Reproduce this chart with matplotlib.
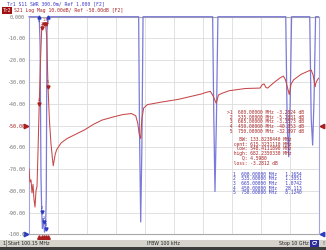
import numpy as np
import matplotlib.pyplot as plt
from matplotlib.patches import Rectangle

# S21 log magnitude trace (MHz, dB)
s21_freq = [100, 134, 169, 203, 237, 271, 305, 340, 374, 408,
            450, 494, 535, 560, 600, 634, 665, 705, 750, 800,
            850, 900, 930, 960, 1000, 1050, 1100, 1200, 1400, 1700,
            2000, 2300, 2600, 3000, 3300, 3600, 3750, 3820, 3870, 3920,
            3960, 4020, 4150, 4400, 4600, 5200, 6000, 6150, 6300, 6400,
            6500, 6580, 6700, 6950, 7500, 8000, 8080, 8140, 8200, 8260,
            8500, 8700, 8800, 8870, 9000, 9060, 9150, 9400, 9650, 9750,
            9820, 9885, 9920, 10000]
s21_db = [-70, -76, -75, -81, -77, -84, -87.5, -80, -78, -62,
          -40.05, -20, -5.28, -3.6, -3.28, -3.15, -3.36, -9, -32.1, -48,
          -58, -65, -68.5, -66, -63, -61, -60, -58, -56, -54,
          -52, -49.5, -47.5, -46, -45, -44.5, -45.5, -49, -54, -56,
          -47, -42, -40.4, -39.8, -39.3, -38, -35.5, -34.8, -34.3, -36.5,
          -39.8, -36, -35.2, -34, -33, -32.8, -31.2, -30.9, -32.5, -32.8,
          -30, -28, -27.3, -29, -35.8, -31, -29, -26.5, -25, -24.5,
          -27, -32.2, -30, -28.3]

# S11 SWR trace (MHz, SWR) - values above 4 sit on the top edge
swr_freq = [100, 300, 420, 450, 480, 510, 535, 560, 580, 600,
            630, 665, 690, 715, 750, 800, 3850, 3880, 3920, 3960,
            4000, 6380, 6420, 6460, 6510, 6560, 8880, 8930, 8980, 9030,
            9080, 9700, 9750, 9800, 9850, 9900, 10000]
swr_val = [12, 15, 20, 28.1, 3.6, 1.8, 1.305, 1.08, 1.22, 1.165,
           1.03, 1.074, 1.5, 3.8, 8.12, 20, 9, 2.4, 1.17, 2.2,
           9, 9, 2.6, 1.59, 2.6, 9, 9, 2.5, 2.07, 2.8,
           9, 9, 2.6, 2.23, 2.9, 9, 9]

marker_freq = [600, 535, 665, 450, 750]
marker_s21 = ["-3.2824", "-5.2831", "-3.3573", "-40.053", "-32.097"]
marker_swr = ["1.1654", "1.3051", "1.0742", "28.113", "8.1240"]

bw_labels = ["BW:", "cent:", "low:", "high:", "Q:", "loss:"]
bw_values = ["133.8238440 MHz", "615.3231110 MHz", "548.4111890 MHz",
             "682.2350330 MHz", "4.5980", "-3.2812 dB"]

y_ticks = list(range(-100, 1, 10))
y_ticklabels = ["-100.0", "-90.00", "-80.00", "-70.00", "-60.00", "-50.00",
                "-40.00", "-30.00", "-20.00", "-10.00", "0.000"]

START, STOP = 100.15, 10000.0
SWR_LO, SWR_HI = 1.0, 4.0

RED = "#c64848"
RED_DARK = "#a82020"
BLUE = "#7a7ad8"
BLUE_DARK = "#2a3cc0"
MONO = "DejaVu Sans Mono"

W, H = 326, 250
fig = plt.figure(figsize=(W / 100, H / 100), dpi=100)
fig.patch.set_facecolor("white")


def fx(x):
    return x / W


def fy(y):
    return 1 - y / H


rect = [fx(29), fy(234.3), (318.5 - 29) / W, 217.6 / H]

# SWR axes is drawn first and carries the grid; S21 axes sits on top, transparent
ax2 = fig.add_axes(rect)
ax = fig.add_axes(rect, sharex=ax2)
ax.patch.set_visible(False)

ax2.set_xlim(START, STOP)
ax2.set_ylim(SWR_LO, SWR_HI)
ax2.set_xticks(np.linspace(START, STOP, 11))
ax2.set_yticks(np.linspace(SWR_LO, SWR_HI, 11))
ax2.tick_params(length=0, labelbottom=False, labelleft=False)
ax2.grid(True, color="#dcdcdc", linewidth=0.6)
for side in ["left", "right"]:
    ax2.spines[side].set_color("#a4a4e4")
for side in ["top", "bottom"]:
    ax2.spines[side].set_color("#a8a8a8")
for sp in ax2.spines.values():
    sp.set_linewidth(0.8)

ax.set_ylim(-100, 0)
ax.set_yticks(y_ticks)
ax.set_yticklabels(y_ticklabels, family=MONO)
ax.tick_params(axis="y", length=0, pad=2.9, labelsize=3.6, labelcolor="#707070")
ax.tick_params(axis="x", length=0, labelbottom=False)
for lbl in ax.get_yticklabels():
    if lbl.get_text() == "-50.00":
        lbl.set_color(RED_DARK)
for sp in ax.spines.values():
    sp.set_visible(False)

# traces
ax2.plot(swr_freq, np.clip(swr_val, SWR_LO, SWR_HI), color=BLUE, lw=0.9,
         clip_on=False, zorder=3)
ax.plot(s21_freq, s21_db, color=RED, lw=0.75, zorder=3)

# markers on traces
m_s21 = [float(v) for v in marker_s21]
ax.plot(marker_freq, m_s21, "v", ms=2.2, color=RED_DARK, zorder=4)
for i, f in enumerate(marker_freq):
    ax.annotate(str(i + 1), (f, m_s21[i]), xytext=(0, 1.5), textcoords="offset points",
                fontsize=2.6, ha="center", va="bottom", color=RED_DARK, family=MONO)

for i, f in enumerate(marker_freq):
    v = float(marker_swr[i])
    if v > SWR_HI:
        # off-scale marker sits under the top edge, pointing up
        ax2.plot([f], [SWR_HI], "^", ms=2.2, color=BLUE_DARK, zorder=4, clip_on=False)
        ax2.annotate(str(i + 1), (f, SWR_HI), xytext=(0, -2), textcoords="offset points",
                     fontsize=2.6, ha="center", va="top", color=BLUE_DARK, family=MONO)
    else:
        ax2.plot([f], [v], "v", ms=2.2, color=BLUE_DARK, zorder=4)
        ax2.annotate(str(i + 1), (f, v), xytext=(0, 1.5), textcoords="offset points",
                     fontsize=2.6, ha="center", va="bottom", color=BLUE_DARK, family=MONO)

# stimulus markers under the grid
ax.plot(marker_freq, [-0.012] * len(marker_freq), transform=ax.get_xaxis_transform(),
        marker="^", ms=2.6, ls="none", color=RED_DARK, clip_on=False)

# reference position arrows
ax.plot([-0.012], [-50], marker=">", ms=3.2, color=RED_DARK,
        transform=ax.get_yaxis_transform(), clip_on=False)
ax.plot([1.012], [-50], marker="<", ms=3.2, color=RED_DARK,
        transform=ax.get_yaxis_transform(), clip_on=False)
ax2.plot([-0.012], [SWR_LO], marker=">", ms=3.2, color=BLUE_DARK,
         transform=ax2.get_yaxis_transform(), clip_on=False)
ax2.plot([1.012], [SWR_LO], marker="<", ms=3.2, color=BLUE_DARK,
         transform=ax2.get_yaxis_transform(), clip_on=False)

# trace headers
fig.text(fx(6.7), fy(4), "Tr1 S11 SWR 300.0m/ Ref 1.000 [F2]", fontsize=3.4,
         family=MONO, color="#3a3ac8", va="center")
fig.text(fx(2.5), fy(10.2), "Tr2", fontsize=3.4, family=MONO, color="white",
         va="center", bbox=dict(boxstyle="square,pad=0.2", fc="#a01010", ec="none"))
fig.text(fx(14.5), fy(10.2), "S21 Log Mag 10.00dB/ Ref -50.00dB [F2]", fontsize=3.4,
         family=MONO, color=RED_DARK, va="center")

# marker readouts
fs_read = 3.3
for i, f in enumerate(marker_freq):
    prefix = ">" if i == 0 else " "
    line = f"{prefix}{i + 1}  {f:.5f} MHz {marker_s21[i]:>7} dB"
    fig.text(fx(226.7), fy(112.3 + i * 4.75), line, fontsize=fs_read, family=MONO,
             color=RED_DARK, va="center")
for i, (lab, val) in enumerate(zip(bw_labels, bw_values)):
    fig.text(fx(230.9), fy(139.3 + i * 4.75), f"{lab:>6} {val}", fontsize=fs_read,
             family=MONO, color=RED_DARK, va="center")
for i, f in enumerate(marker_freq):
    line = f"{i + 1}  {f:.5f} MHz   {marker_swr[i]:>6}"
    fig.text(fx(233.3), fy(174.3 + i * 4.6), line, fontsize=fs_read, family=MONO,
             color="#3a3ac0", va="center")

# status bar
fig.add_artist(Rectangle((0, fy(247)), 1, 7 / H, transform=fig.transFigure,
                         fc="#d6d3cc", ec="none"))
fig.add_artist(Rectangle((0, 0), 1, 3 / H, transform=fig.transFigure,
                         fc="#3c3c3c", ec="none"))
fig.add_artist(Rectangle((fx(6), fy(247)), 0.6 / W, 7 / H, transform=fig.transFigure,
                         fc="#909090", ec="none"))
sb = dict(fontsize=3.4, color="#202020", va="center")
fig.text(fx(2), fy(243.5), "1", **sb)
fig.text(fx(8), fy(243.5), "Start 100.15 MHz", **sb)
fig.text(fx(163), fy(243.5), "IFBW 100 kHz", ha="center", **sb)
fig.text(fx(308.5), fy(243.5), "Stop 10 GHz", ha="right", **sb)
fig.text(fx(314.5), fy(243.5), "C?", ha="center", fontsize=3.4, color="white",
         va="center", fontweight="bold",
         bbox=dict(boxstyle="square,pad=0.2", fc="#2a2a9a", ec="none"))
fig.text(fx(322), fy(243.5), "!", **sb)

fig.savefig("out.png", dpi=100)
